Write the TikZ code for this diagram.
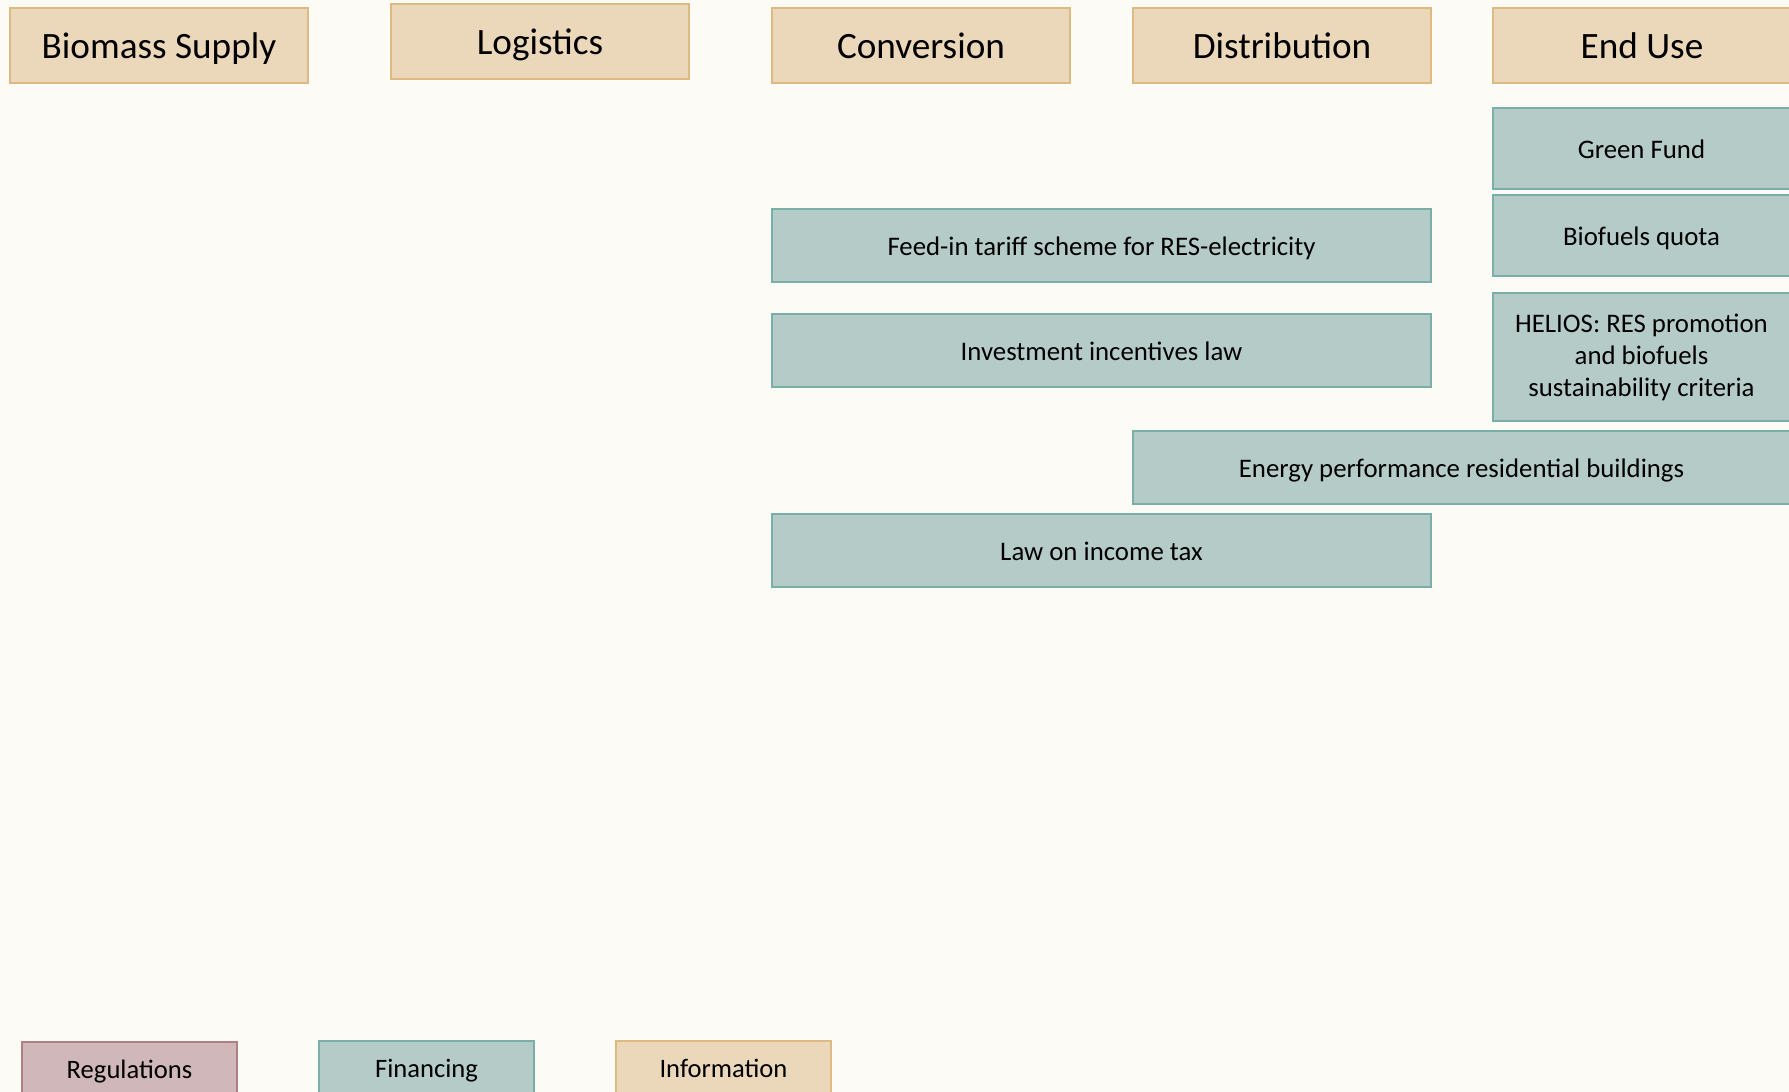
\documentclass[tikz,border=0pt]{standalone}
\usepackage{fontspec}
\setmainfont{Carlito}
\usepackage{tikz}

\definecolor{paper}{HTML}{FCFBF6}
\definecolor{infofill}{HTML}{EBD8BA}
\definecolor{infoline}{HTML}{DDBB80}
\definecolor{finfill}{HTML}{B5CBC8}
\definecolor{finline}{HTML}{7AAFA8}
\definecolor{regfill}{HTML}{CFB7BA}
\definecolor{regline}{HTML}{B07F85}

\tikzset{
    box/.style={draw, line width=1pt, anchor=north west, inner sep=0pt, align=center},
    stage/.style={box, fill=infofill, draw=infoline, minimum width=149pt, minimum height=37.5pt, text height=12.7pt, text depth=0pt, font=\fontsize{18.6}{22}\selectfont},
    fin/.style={box, fill=finfill, draw=finline, font=\fontsize{13.4}{16}\selectfont},
    oneline/.style={text height=9.6pt, text depth=0pt},
    key/.style={box, minimum width=107.5pt, minimum height=27.5pt, text height=8.5pt, text depth=0pt, font=\fontsize{13.3}{16}\selectfont}
}

\begin{document}
\begin{tikzpicture}[x=0.5pt, y=-0.5pt]
\useasboundingbox[fill=paper] (0,0) rectangle (1789,1092);

% value chain stages
\node[stage] (supply) at (9,7) {Biomass Supply};
\node[stage] (logistics) at (390,3) {Logistics};
\node[stage] (conversion) at (771,7) {Conversion};
\node[stage] (distribution) at (1132,7) {Distribution};
\node[stage] (enduse) at (1492,7) {End Use};

% financing instruments
\node[fin, oneline, minimum width=148.5pt, minimum height=40.5pt] (greenfund) at (1492,107) {Green Fund};
\node[fin, oneline, minimum width=148.5pt, minimum height=40.5pt] (quota) at (1492,194) {Biofuels quota};
\node[fin, oneline, minimum width=329.5pt, minimum height=36.5pt] (feedin) at (771,208) {Feed-in tariff scheme for RES-electricity};
\node[fin, oneline, minimum width=329.5pt, minimum height=36.5pt] (investment) at (771,313) {Investment incentives law};
\node[fin, minimum width=148.5pt, minimum height=64pt] (helios) at (1492,292) {HELIOS: RES promotion\\and biofuels\\sustainability criteria};
\node[fin, oneline, minimum width=328.5pt, minimum height=36.5pt] (buildings) at (1132,430) {Energy performance residential buildings};
\node[fin, oneline, minimum width=329.5pt, minimum height=36.5pt] (incometax) at (771,513) {Law on income tax};

% legend
\node[key, fill=regfill, draw=regline] (regulations) at (21,1041) {Regulations};
\node[key, fill=finfill, draw=finline] (financing) at (318,1040) {Financing};
\node[key, fill=infofill, draw=infoline] (information) at (615,1040) {Information};
\end{tikzpicture}
\end{document}
